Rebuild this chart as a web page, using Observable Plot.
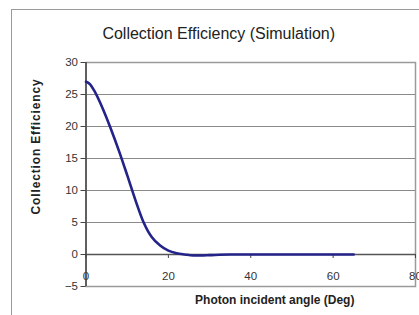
<!DOCTYPE html>
<html>
<head>
<meta charset="utf-8">
<script src="https://cdn.jsdelivr.net/npm/d3@7"></script>
<script src="https://cdn.jsdelivr.net/npm/@observablehq/plot@0.6"></script>
<style>
  html, body { margin: 0; padding: 0; background: #fff; overflow: hidden; }
  #wrap { position: relative; width: 419px; height: 315px; }
  #border { position: absolute; left: 11px; top: 9px; width: 600px; height: 600px;
            border: 1.5px solid #9a9a9a; pointer-events: none; z-index: 2; }
</style>
</head>
<body>
<div id="wrap"><div id="border"></div></div>
<script>
const title = "Collection Efficiency (Simulation)";
const xLabel = "Photon incident angle (Deg)";
const yLabel = "Collection Efficiency";
const xTicks = [0, 20, 40, 60, 80];
const yTicks = [-5, 0, 5, 10, 15, 20, 25, 30];
const angle = [0, 1, 2, 4, 6, 8, 10, 12, 14, 15, 16, 18, 20, 22, 24, 26, 28, 30, 35, 40, 45, 50, 55, 60, 65];
const efficiency = [27.0, 26.6, 25.6, 22.9, 19.7, 16.2, 12.4, 8.5, 5.0, 3.7, 2.7, 1.4, 0.6, 0.2, 0.0, -0.15, -0.15, -0.1, 0, 0, 0, 0, 0, 0, 0];

const data = angle.map((a, i) => ({angle: a, eff: efficiency[i]}));
const font = "Liberation Sans, Arial, sans-serif";

const chart = Plot.plot({
  width: 419,
  height: 315,
  marginLeft: 85.5,
  marginRight: 4,
  marginTop: 62,
  marginBottom: 29,
  style: {fontFamily: font, fontSize: "11px", color: "#333", background: "transparent"},
  x: {domain: [0, 80]},
  y: {domain: [-5, 30]},
  marks: [
    Plot.gridY(yTicks, {stroke: "#8a8a8a", strokeOpacity: 1, strokeWidth: 1}),
    Plot.frame({stroke: "#9a9a9a", strokeWidth: 1.5}),
    Plot.axisY({ticks: yTicks, tickSize: 5, tickPadding: 3, label: null, stroke: "#444", fill: "#333", fontSize: 11.5}),
    Plot.axisX({ticks: xTicks, tickSize: 4, tickPadding: 13, dy: -32, label: null, stroke: "#444", fill: "#333", fontSize: 11.5}),
    Plot.ruleY([0], {stroke: "#555", strokeWidth: 1.5}),
    Plot.ruleX([0], {y1: -5, y2: 30, stroke: "#444", strokeWidth: 1.5}),
    Plot.line(data, {x: "angle", y: "eff", stroke: "#23238a", strokeWidth: 2.6, curve: "monotone-x"}),
    Plot.text([title], {frameAnchor: "top", textAnchor: "middle", dx: -32, dy: -29, fontSize: 16, fill: "#222", lineAnchor: "middle"}),
    Plot.text([yLabel], {frameAnchor: "left", textAnchor: "middle", rotate: -90, dx: -49.5, dy: -28, fontSize: 12, fontWeight: "bold", fill: "#222", lineAnchor: "middle"}),
    Plot.text([xLabel], {frameAnchor: "bottom", textAnchor: "middle", dx: 24, dy: 14, fontSize: 12, fontWeight: "bold", fill: "#222", lineAnchor: "middle"})
  ]
});
d3.select(chart).selectAll("text").filter(function() { return this.textContent === yLabel; })
  .style("letter-spacing", "0.85px");
document.getElementById("wrap").appendChild(chart);
</script>
</body>
</html>
